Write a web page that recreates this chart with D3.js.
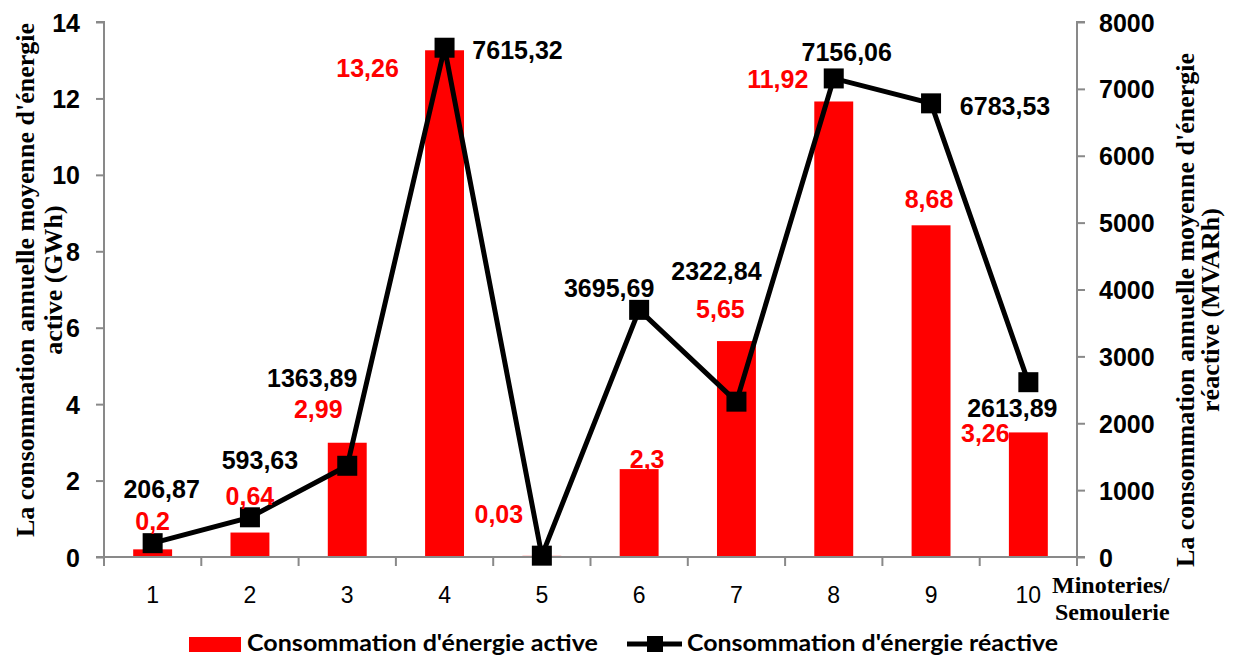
<!DOCTYPE html>
<html><head><meta charset="utf-8">
<script src="https://cdn.jsdelivr.net/npm/d3@7"></script>
<style>body{margin:0;background:#fff}svg{display:block}</style>
</head><body>
<svg id="c" width="1233" height="657"></svg>
<script>
const categories = ["1","2","3","4","5","6","7","8","9","10"];
const activeValues = [0.2,0.64,2.99,13.26,0.03,2.3,5.65,11.92,8.68,3.26];
const reactiveValues = [206.87,593.63,1363.89,7615.32,20,3695.69,2322.84,7156.06,6783.53,2613.89];
const activeLabels = ["0,2","0,64","2,99","13,26","0,03","2,3","5,65","11,92","8,68","3,26"];
const reactiveLabels = ["206,87","593,63","1363,89","7615,32","","3695,69","2322,84","7156,06","6783,53","2613,89"];
const leftTicks = [0,2,4,6,8,10,12,14];
const rightTicks = [0,1000,2000,3000,4000,5000,6000,7000,8000];
// label offsets (dx, dy from data point) in px
const activeLabelOff = [[0,-19],[0,-28],[-29,-25],[-77,27],[-43,-33],[8,-1],[-16,-23],[-56,-13],[-2,-17],[-43,10]];
const reactiveLabelOff = [[9,-45],[10,-48],[-35,-79],[73,11],[0,0],[-30,-13],[-20,-122],[13,-17],[74,12],[-16,35]];

const svg = d3.select("#c");
const L=104, R=1077, T=22, B=557;
const x = d3.scaleBand().domain(categories).range([L,R]).padding(0);
const yL = d3.scaleLinear().domain([0,14]).range([B,T]);
const yR = d3.scaleLinear().domain([0,8000]).range([B,T]);
const axisColor="#898989";
const sans="'Liberation Sans', Arial, sans-serif";
const serif="'Liberation Serif', 'Times New Roman', serif";
const bw = x.bandwidth()*0.4;

// bars
svg.append("g").selectAll("rect").data(activeValues).join("rect")
  .attr("x",(d,i)=>x(categories[i])+x.bandwidth()/2-bw/2)
  .attr("y",d=>yL(d)).attr("width",bw).attr("height",d=>B-yL(d))
  .attr("fill","#ff0000");

// axes
const gL = svg.append("g").attr("transform",`translate(${L},0)`)
  .call(d3.axisLeft(yL).tickValues(leftTicks).tickSize(8).tickPadding(16).tickFormat(d3.format("d")));
const gR = svg.append("g").attr("transform",`translate(${R},0)`)
  .call(d3.axisRight(yR).tickValues(rightTicks).tickSize(8).tickPadding(14).tickFormat(d3.format("d")));
const gX = svg.append("g").attr("transform",`translate(0,${B})`)
  .call(d3.axisBottom(x).tickSize(0).tickPadding(46));
svg.append("g").selectAll("line").data(d3.range(categories.length+1)).join("line")
  .attr("x1",i=>L+i*x.step()).attr("x2",i=>L+i*x.step())
  .attr("y1",B).attr("y2",B+9).attr("stroke",axisColor).attr("stroke-width",2);
[gL,gR,gX].forEach(g=>{
  g.attr("font-family",sans);
  g.selectAll("path.domain").attr("stroke",axisColor).attr("stroke-width",2);
  g.selectAll(".tick line").attr("stroke",axisColor).attr("stroke-width",2);
});
gX.select("path.domain").attr("d",`M${L},0H${R}`);
gL.select("path.domain").attr("d",`M-8,${T}H0V${B}H-8`);
gR.select("path.domain").attr("d",`M8,${T}H0V${B}H8`);
[gL,gR].forEach(g=>g.selectAll(".tick text").attr("font-family",sans).attr("font-weight","bold")
  .attr("font-size",25).attr("fill","#000").attr("dy","0.36em"));
gX.selectAll(".tick text").attr("font-family",sans).attr("font-size",23).attr("fill","#000").attr("dy","0");

// line
const line = d3.line().x((d,i)=>x(categories[i])+x.bandwidth()/2).y(d=>yR(d));
svg.append("path").datum(reactiveValues).attr("d",line).attr("fill","none")
  .attr("stroke","#000").attr("stroke-width",5).attr("stroke-linejoin","miter");
const ms=20;
svg.append("g").selectAll("rect").data(reactiveValues).join("rect")
  .attr("x",(d,i)=>x(categories[i])+x.bandwidth()/2-ms/2).attr("y",d=>yR(d)-ms/2)
  .attr("width",ms).attr("height",ms).attr("fill","#000");

// data labels
svg.append("g").selectAll("text").data(activeValues).join("text")
  .attr("x",(d,i)=>x(categories[i])+x.bandwidth()/2+activeLabelOff[i][0])
  .attr("y",(d,i)=>yL(d)+activeLabelOff[i][1])
  .attr("text-anchor","middle").attr("font-family",sans).attr("font-weight","bold")
  .attr("font-size",25).attr("fill","#ff0000").text((d,i)=>activeLabels[i]);
svg.append("g").selectAll("text").data(reactiveValues).join("text")
  .attr("x",(d,i)=>x(categories[i])+x.bandwidth()/2+reactiveLabelOff[i][0])
  .attr("y",(d,i)=>yR(d)+reactiveLabelOff[i][1])
  .attr("text-anchor","middle").attr("font-family",sans).attr("font-weight","bold")
  .attr("font-size",25).attr("fill","#000").text((d,i)=>reactiveLabels[i]);

// axis titles
const tl = svg.append("text").attr("transform","translate(0,280) rotate(-90)")
  .attr("text-anchor","middle").attr("font-family",serif).attr("font-weight","bold").attr("font-size",26);
tl.append("tspan").attr("x",0).attr("y",34).text("La consommation annuelle moyenne d'énergie");
tl.append("tspan").attr("x",0).attr("y",62).text("active  (GWh)");
const tr = svg.append("text").attr("transform","translate(0,310) rotate(-90)")
  .attr("text-anchor","middle").attr("font-family",serif).attr("font-weight","bold").attr("font-size",26);
tr.append("tspan").attr("x",0).attr("y",1194).text("La consommation annuelle moyenne d'énergie");
tr.append("tspan").attr("x",0).attr("y",1219).text("réactive  (MVARh)");

// x axis title
const xt = svg.append("text").attr("font-family",serif).attr("font-weight","bold").attr("font-size",24);
xt.append("tspan").attr("x",1052).attr("y",593).text("Minoteries/");
xt.append("tspan").attr("x",1055).attr("y",620).text("Semoulerie");

// legend
const lg = svg.append("g");
lg.append("rect").attr("x",189).attr("y",637).attr("width",52).attr("height",15).attr("fill","#ff0000");
lg.append("text").attr("x",247).attr("y",651).attr("font-family","Lato, 'Open Sans', sans-serif").attr("font-weight","bold")
  .attr("font-size",22).attr("textLength",351).attr("lengthAdjust","spacingAndGlyphs").text("Consommation d'énergie active");
lg.append("line").attr("x1",627).attr("x2",682).attr("y1",644).attr("y2",644).attr("stroke","#000").attr("stroke-width",5);
lg.append("rect").attr("x",647).attr("y",636).attr("width",16).attr("height",16).attr("fill","#000");
lg.append("text").attr("x",687).attr("y",651).attr("font-family","Lato, 'Open Sans', sans-serif").attr("font-weight","bold")
  .attr("font-size",22).attr("textLength",371).attr("lengthAdjust","spacingAndGlyphs").text("Consommation d'énergie réactive");
</script>
</body></html>
